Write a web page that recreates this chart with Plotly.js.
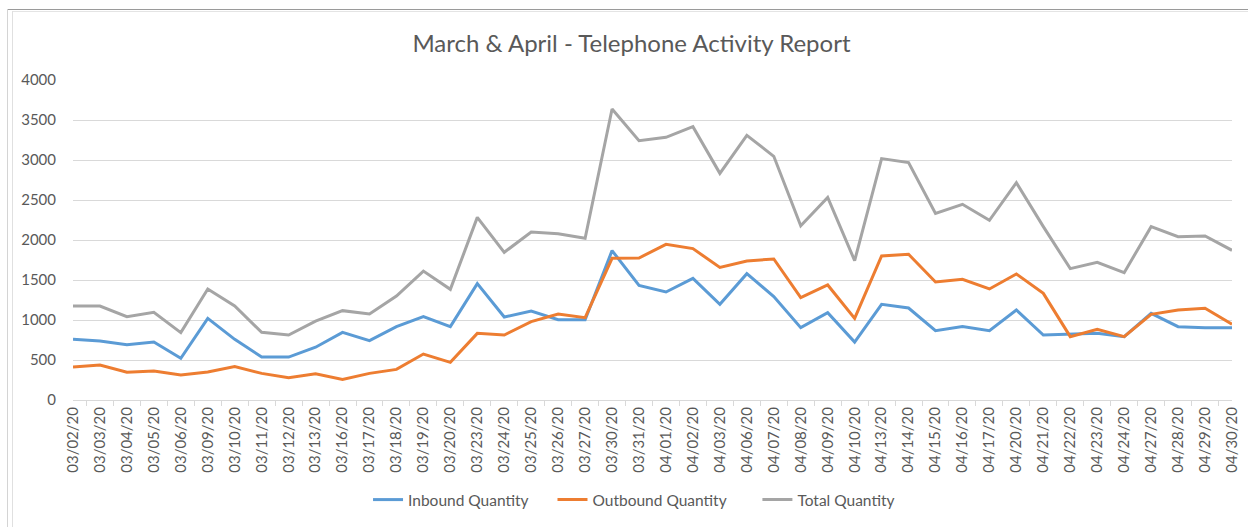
<!DOCTYPE html>
<html>
<head>
<meta charset="utf-8">
<script src="https://cdn.plot.ly/plotly-3.0.1.min.js"></script>
<style>
  html, body { margin: 0; padding: 0; background: #ffffff; overflow: hidden; }
  #chart { position: absolute; left: 0; top: 0; width: 1248px; height: 527px; }
  .frame { position: absolute; pointer-events: none; }
</style>
</head>
<body>
<div id="chart"></div>
<div class="frame" style="left:7px; top:9px; width:1241px; height:0; border-top:1px solid #9a9a9a;"></div>
<div class="frame" style="left:12px; top:11px; width:1236px; height:0; border-top:1px solid #e4e4e4;"></div>
<div class="frame" style="left:7px; top:9px; width:0; height:518px; border-left:1px solid #d4d4d4;"></div>
<div class="frame" style="left:12px; top:11px; width:0; height:516px; border-left:1px solid #e0e0e0;"></div>
<script>
const dates = [
  "03/02/20","03/03/20","03/04/20","03/05/20","03/06/20","03/09/20","03/10/20","03/11/20","03/12/20","03/13/20",
  "03/16/20","03/17/20","03/18/20","03/19/20","03/20/20","03/23/20","03/24/20","03/25/20","03/26/20","03/27/20",
  "03/30/20","03/31/20","04/01/20","04/02/20","04/03/20","04/06/20","04/07/20","04/08/20","04/09/20","04/10/20",
  "04/13/20","04/14/20","04/15/20","04/16/20","04/17/20","04/20/20","04/21/20","04/22/20","04/23/20","04/24/20",
  "04/27/20","04/28/20","04/29/20","04/30/20"
];

const inbound = [
  758, 737, 692, 725, 521, 1021, 758, 537, 537, 660,
  846, 742, 917, 1042, 917, 1454, 1037, 1112, 1004, 1004,
  1867, 1433, 1350, 1521, 1196, 1579, 1292, 904, 1092, 725,
  1196, 1150, 867, 917, 867, 1125, 812, 825, 833, 792,
  1083, 917, 904, 904
];

const outbound = [
  412, 437, 346, 362, 312, 350, 417, 333, 279, 327,
  258, 333, 383, 575, 471, 833, 812, 979, 1075, 1029,
  1771, 1775, 1946, 1892, 1658, 1738, 1763, 1279, 1438, 1021,
  1800, 1821, 1475, 1508, 1388, 1575, 1333, 792, 883, 792,
  1071, 1125, 1146, 946
];

const total = [
  1175, 1175, 1042, 1096, 842, 1388, 1175, 846, 812, 986,
  1117, 1075, 1300, 1612, 1383, 2283, 1846, 2100, 2079, 2021,
  3638, 3242, 3283, 3417, 2833, 3308, 3046, 2179, 2533, 1742,
  3017, 2968, 2333, 2446, 2246, 2717, 2167, 1642, 1721, 1592,
  2167, 2042, 2050, 1871
];

const seriesNames = ["Inbound Quantity", "Outbound Quantity", "Total Quantity"];
const seriesColors = ["#5B9BD5", "#ED7D31", "#A5A5A5"];
const yTicks = [0, 500, 1000, 1500, 2000, 2500, 3000, 3500, 4000];

const FONT = "Lato, 'Open Sans', sans-serif";
const TXT = "#595959";

const legendIds = ["legend", "legend2", "legend3"];
const legendX = [0.2949, 0.4427, 0.6069];

const traces = [inbound, outbound, total].map((vals, i) => ({
  type: "scatter",
  mode: "lines",
  x: dates,
  y: vals,
  name: seriesNames[i],
  legend: legendIds[i],
  line: { color: seriesColors[i], width: 3 },
  hoverinfo: "skip"
}));

function legendCfg(x) {
  return {
    orientation: "h",
    xref: "container", yref: "container",
    x: x, xanchor: "left",
    y: 0.0512, yanchor: "middle",
    font: { family: FONT, size: 15.5, color: TXT },
    bgcolor: "rgba(0,0,0,0)",
    borderwidth: 0
  };
}

const layout = {
  width: 1248,
  height: 527,
  margin: { l: 73, r: 16, t: 80, b: 127, autoexpand: false },
  paper_bgcolor: "rgba(0,0,0,0)",
  plot_bgcolor: "rgba(0,0,0,0)",
  title: {
    text: "March & April - Telephone Activity Report",
    font: { family: FONT, size: 24, color: TXT },
    x: 0.506, xanchor: "center",
    y: 0.918, yanchor: "middle"
  },
  showlegend: true,
  legend: legendCfg(legendX[0]),
  legend2: legendCfg(legendX[1]),
  legend3: legendCfg(legendX[2]),
  xaxis: {
    type: "category",
    categoryorder: "array",
    categoryarray: dates,
    tickangle: -90,
    tickfont: { family: FONT, size: 15, color: TXT },
    tickson: "boundaries",
    ticks: "outside",
    ticklen: 5,
    tickcolor: "#d9d9d9",
    showline: true,
    linecolor: "#d9d9d9",
    linewidth: 1,
    showgrid: false,
    zeroline: false,
    fixedrange: true,
    automargin: false
  },
  yaxis: {
    range: [0, 4000],
    tickvals: yTicks,
    ticktext: yTicks.map(String),
    tickfont: { family: FONT, size: 15, color: TXT },
    showgrid: true,
    gridcolor: "#d9d9d9",
    gridwidth: 1,
    zeroline: false,
    showline: false,
    ticks: "",
    ticklabelstandoff: 16,
    fixedrange: true,
    automargin: false
  },
  hovermode: false
};

Plotly.newPlot("chart", traces, layout, { displayModeBar: false, staticPlot: true });
</script>
</body>
</html>
